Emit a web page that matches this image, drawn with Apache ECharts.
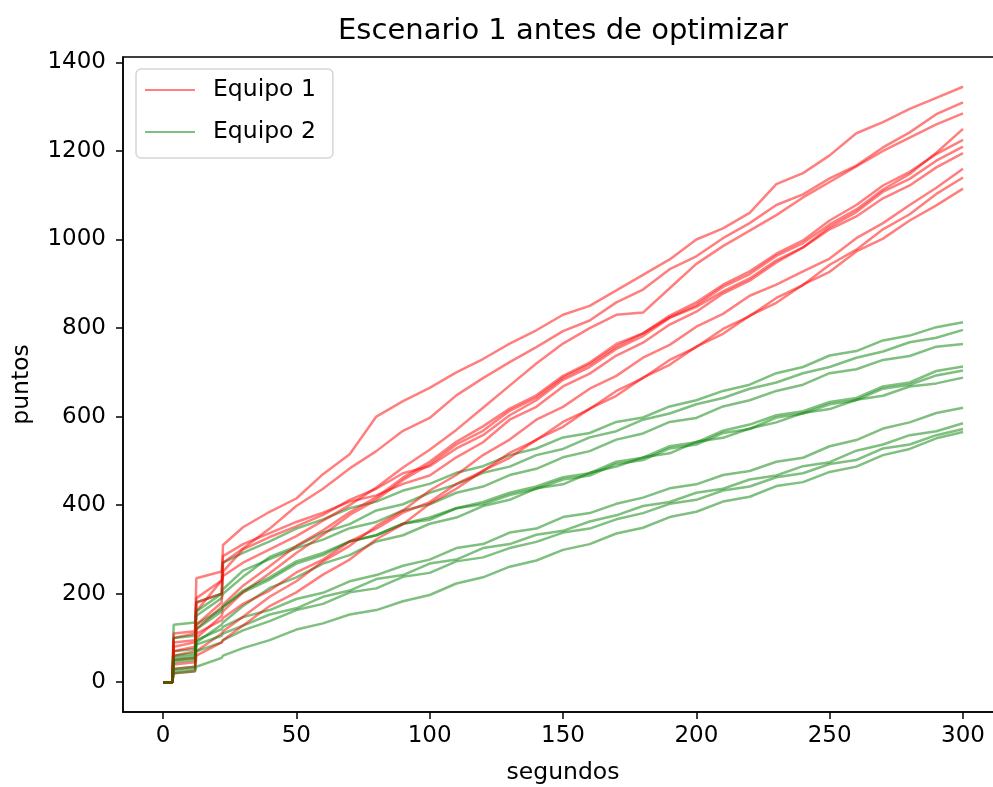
<!DOCTYPE html>
<html><head><meta charset="utf-8">
<script src="https://cdn.jsdelivr.net/npm/echarts@6/dist/echarts.min.js"></script>
<style>html,body{margin:0;padding:0;background:#fff}#c{width:993px;height:787px}</style>
</head><body><div id="c"></div>
<script>
// ---- data ----
const tiempos = [0,3.5,4,12,12.5,22,22.5,30,40,50,60,70,80,90,100,110,120,130,140,150,160,170,180,190,200,210,220,230,240,250,260,270,280,290,300];
const xTicks = [0,50,100,150,200,250,300];
const yTicks = [0,200,400,600,800,1000,1200,1400];

const e1r1 = [0,0,60,70,190,230,310,350,385,415,470,515,600,635,665,700,730,765,795,830,850,885,920,955,1000,1025,1060,1125,1150,1190,1240,1265,1295,1320,1345];
const e1r2 = [0,0,100,110,180,200,270,302,347,398,437,483,522,568,597,648,687,723,757,793,817,858,887,933,962,1003,1037,1078,1102,1138,1167,1208,1242,1283,1310];
const e1r3 = [0,0,80,90,160,230,240,270,300,330,365,400,440,485,525,570,620,670,720,765,800,830,835,890,945,985,1020,1055,1095,1130,1165,1200,1230,1260,1285];
const e1r4 = [0,0,50,55,120,170,175,218,262,308,343,384,418,462,498,543,578,618,648,692,722,764,788,824,852,893,922,963,992,1034,1068,1113,1148,1196,1250];
const e1r5 = [0,0,40,45,100,150,160,203,246,292,333,378,412,457,492,537,568,613,643,688,718,758,788,828,858,898,928,968,998,1043,1078,1122,1153,1193,1225];
const e1r6 = [0,0,70,80,130,180,250,300,328,352,378,412,437,472,488,528,558,603,637,683,712,753,782,823,848,883,912,953,982,1028,1062,1108,1137,1178,1210];
const e1r7 = [0,0,110,115,235,250,285,312,337,362,383,408,422,448,467,508,542,593,622,668,697,738,767,808,837,878,907,948,982,1023,1052,1093,1122,1163,1195];
const e1r8 = [0,0,30,35,70,110,115,148,193,228,273,308,353,388,433,468,513,548,593,622,663,692,733,762,803,832,873,898,928,957,1003,1037,1078,1117,1160];
const e1r9 = [0,0,90,95,110,140,145,177,207,248,277,318,347,383,407,448,477,518,547,588,617,658,687,728,757,798,827,868,897,943,977,1023,1057,1103,1140];
const e1r10 = [0,0,20,25,60,90,95,128,172,203,243,277,323,357,403,437,478,507,548,577,618,647,688,717,758,787,828,857,898,927,973,1002,1043,1077,1115];

const e2r1 = [0,0,130,135,180,200,270,292,318,347,368,393,408,433,448,473,488,513,528,553,563,588,598,623,637,658,672,698,712,738,748,772,783,802,813];
const e2r2 = [0,0,60,65,150,190,200,238,283,307,338,357,388,402,428,447,473,487,513,527,553,567,593,607,628,642,663,677,698,712,733,747,768,778,796];
const e2r3 = [0,0,100,105,160,200,210,252,278,303,322,348,362,388,402,428,442,468,482,508,522,548,562,588,597,623,637,658,672,698,707,728,737,758,764];
const e2r4 = [0,0,45,50,120,160,170,203,232,268,287,318,332,358,372,393,407,428,442,463,472,498,507,533,542,568,582,603,612,633,642,668,677,703,713];
const e2r5 = [0,0,70,75,130,165,170,207,237,273,292,318,332,358,367,393,402,423,437,458,467,493,502,528,537,563,572,598,607,628,637,663,672,693,704];
const e2r6 = [0,0,25,30,90,130,135,172,213,237,268,287,318,332,358,372,398,412,438,447,473,487,508,517,543,552,573,587,608,617,638,647,668,675,688];
const e2r7 = [0,0,50,55,95,120,125,147,163,188,202,228,242,263,277,303,312,338,347,373,382,403,417,438,447,468,477,498,507,533,547,573,587,608,620];
const e2r8 = [0,0,30,35,85,105,110,128,153,167,193,207,233,242,268,277,303,312,333,342,363,377,398,407,428,437,458,467,488,497,523,537,558,567,585];
const e2r9 = [0,0,55,60,70,90,95,117,138,163,177,203,212,238,247,273,282,303,317,338,347,368,382,403,412,433,442,463,472,493,502,528,537,558,572];
const e2r10 = [0,0,20,25,35,55,60,77,95,119,133,153,163,183,197,223,237,261,275,299,312,336,349,373,385,408,419,443,452,475,487,513,527,551,565];

const equipo1 = [e1r1,e1r2,e1r3,e1r4,e1r5,e1r6,e1r7,e1r8,e1r9,e1r10];
const equipo2 = [e2r1,e2r2,e2r3,e2r4,e2r5,e2r6,e2r7,e2r8,e2r9,e2r10];

// ---- chart ----
const FONT = 'DejaVu Sans';
const RED = 'rgba(255,0,0,0.5)';
const GREEN = 'rgba(0,128,0,0.5)';
function mk(name, color, vals) {
  return {
    name, type: 'line', symbol: 'none', showSymbol: false, animation: false,
    data: tiempos.map((t, i) => [t, vals[i]]),
    lineStyle: { color, width: 2.5, opacity: 1 },
    itemStyle: { color }
  };
}
const series = [];
for (let i = 0; i < 10; i++) {
  series.push(mk('Equipo 1', RED, equipo1[i]));
  series.push(mk('Equipo 2', GREEN, equipo2[i]));
}
const chart = echarts.init(document.getElementById('c'), null, { renderer: 'canvas' });
chart.setOption({
  animation: false,
  backgroundColor: '#fff',
  grid: { left: 123, top: 57, width: 880, height: 655, outerBoundsMode: 'none', containLabel: false, show: true, borderColor: '#000', borderWidth: 1.5, backgroundColor: 'transparent' },
  graphic: [{
    type: 'text', x: 563, y: 31, z: 100,
    style: { text: 'Escenario 1 antes de optimizar', font: '29px "DejaVu Sans"', fill: '#000', textAlign: 'center', textVerticalAlign: 'middle' }
  }],
  legend: {
    data: ['Equipo 1', 'Equipo 2'],
    orient: 'vertical', left: 136, top: 69,
    itemWidth: 63, itemHeight: 20, itemGap: 18,
    icon: 'path://M0,0H50V2H0Z M63,0H63.01V2H63Z',
    padding: [9, 17, 14, 9],
    backgroundColor: 'rgba(255,255,255,0.8)', borderColor: '#d6d6d6', borderWidth: 1.5, borderRadius: 5,
    textStyle: { fontFamily: FONT, fontSize: 23.5, color: '#000' },
    selectedMode: false
  },
  xAxis: {
    type: 'value', min: -15, max: 315,
    name: 'segundos', nameLocation: 'middle', nameGap: 49,
    nameTextStyle: { fontFamily: FONT, fontSize: 23.5, color: '#000' },
    axisLine: { show: true, onZero: false, lineStyle: { color: '#000', width: 1.5 } },
    axisTick: { show: true, length: 7, lineStyle: { color: '#000', width: 1.5 }, customValues: xTicks },
    axisLabel: { fontFamily: FONT, fontSize: 23, color: '#000', margin: 13, customValues: xTicks, formatter: v => String(v) },
    splitLine: { show: false }
  },
  yAxis: {
    type: 'value', min: -67.25, max: 1412.25,
    name: 'puntos', nameLocation: 'middle', nameGap: 89,
    nameTextStyle: { fontFamily: FONT, fontSize: 23.5, color: '#000' },
    axisLine: { show: true, onZero: false, lineStyle: { color: '#000', width: 1.5 } },
    axisTick: { show: true, length: 7, lineStyle: { color: '#000', width: 1.5 }, customValues: yTicks },
    axisLabel: { fontFamily: FONT, fontSize: 23, color: '#000', margin: 17, customValues: yTicks, formatter: v => String(v) },
    splitLine: { show: false }
  },
  series
});
</script>
</body></html>
